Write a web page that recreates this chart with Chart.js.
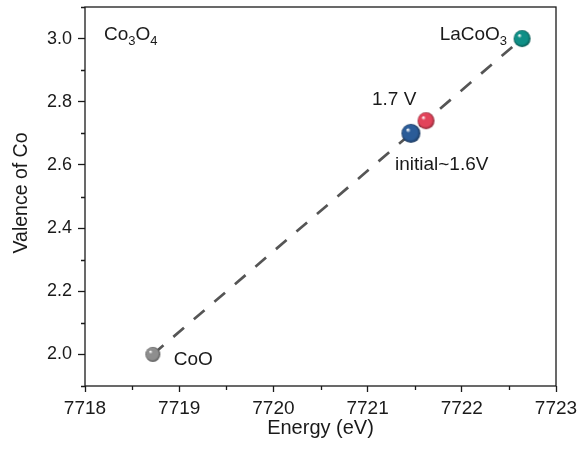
<!DOCTYPE html>
<html>
<head>
<meta charset="utf-8">
<script src="https://cdn.jsdelivr.net/npm/chart.js@4.4.1/dist/chart.umd.min.js"></script>
<style>
  html, body { margin: 0; padding: 0; background: #fff; }
  #wrap { width: 583px; height: 450px; }
</style>
</head>
<body>
<div id="wrap"><canvas id="valenceCanvas"></canvas></div>
<script>
// 샘플 데이터 (red before blue so blue sits on top)
const samples = ['CoO', '1.7 V', 'initial~1.6V', 'LaCoO3'];
const energy = [7718.72, 7721.62, 7721.46, 7722.64];
const valence = [2.00, 2.74, 2.70, 3.00];
const fitEnergy = [7718.72, 7722.64];
const fitValence = [2.00, 3.00];
const xTicks = [7718, 7719, 7720, 7721, 7722, 7723];
const yTicks = [2.0, 2.2, 2.4, 2.6, 2.8, 3.0];

const ballColors = ['#8e8e8e', '#e2435a', '#2b5c98', '#0f8f86'];
const ballRadius = [7.5, 8.5, 9.5, 8.5];
const FONT = '"Liberation Sans", Arial, sans-serif';

function shade(hex, k) {
    const n = parseInt(hex.slice(1), 16);
    const r = Math.round(((n >> 16) & 255) * k);
    const g = Math.round(((n >> 8) & 255) * k);
    const b = Math.round((n & 255) * k);
    return `rgb(${r},${g},${b})`;
}

function makeBall(color, r) {
    const c = document.createElement('canvas');
    c.width = c.height = Math.ceil(2 * r + 2);
    const g = c.getContext('2d');
    const cx = c.width / 2, cy = c.height / 2;
    const grad = g.createRadialGradient(cx - r * 0.35, cy - r * 0.4, r * 0.05, cx, cy, r);
    grad.addColorStop(0, '#ffffff');
    grad.addColorStop(0.22, color);
    grad.addColorStop(0.75, color);
    grad.addColorStop(1, shade(color, 0.6));
    g.fillStyle = grad;
    g.beginPath();
    g.arc(cx, cy, r, 0, Math.PI * 2);
    g.fill();
    return c;
}

const balls = ballColors.map((c, i) => makeBall(c, ballRadius[i]));

// text runs: [text, isSubscript]
const labelRuns = {
    'CoO': [['CoO', false]],
    '1.7 V': [['1.7 V', false]],
    'initial~1.6V': [['initial~1.6V', false]],
    'LaCoO3': [['LaCoO', false], ['3', true]]
};
// offset of the label from its point (px), align
const labelOffset = {
    'CoO': [21, 11, 'left'],
    '1.7 V': [-54, -16, 'left'],
    'initial~1.6V': [-16, 37, 'left'],
    'LaCoO3': [-15, 1, 'right']
};

function runsWidth(ctx, runs) {
    let w = 0;
    runs.forEach(([t, sub]) => {
        ctx.font = (sub ? '13px ' : '19px ') + FONT;
        w += ctx.measureText(t).width;
    });
    return w;
}

function drawRuns(ctx, runs, x, y) {
    runs.forEach(([t, sub]) => {
        ctx.font = (sub ? '13px ' : '19px ') + FONT;
        ctx.fillText(t, x, sub ? y + 5 : y);
        x += ctx.measureText(t).width;
    });
}

const framePlugin = {
    id: 'frame',
    afterDraw(chart) {
        const { ctx, chartArea: a, scales: { x, y } } = chart;
        ctx.save();
        ctx.strokeStyle = '#1a1a1a';
        ctx.lineWidth = 1.3;
        ctx.strokeRect(a.left, a.top, a.right - a.left, a.bottom - a.top);

        // minor ticks
        ctx.beginPath();
        for (let i = 0; i < xTicks.length - 1; i++) {
            const px = Math.round(x.getPixelForValue((xTicks[i] + xTicks[i + 1]) / 2)) + 0.5;
            ctx.moveTo(px, a.bottom);
            ctx.lineTo(px, a.bottom + 4);
        }
        const yMinor = [1.9];
        for (let i = 0; i < yTicks.length - 1; i++) yMinor.push((yTicks[i] + yTicks[i + 1]) / 2);
        yMinor.push(3.1);
        yMinor.forEach(v => {
            const py = Math.round(y.getPixelForValue(v)) + 0.5;
            ctx.moveTo(a.left, py);
            ctx.lineTo(a.left - 4, py);
        });
        ctx.stroke();

        // axis titles
        ctx.fillStyle = '#1a1a1a';
        ctx.font = '20px ' + FONT;
        ctx.textAlign = 'center';
        ctx.textBaseline = 'middle';
        ctx.fillText('Energy (eV)', (a.left + a.right) / 2, 428);
        ctx.save();
        ctx.translate(22, 193);
        ctx.rotate(-Math.PI / 2);
        ctx.font = '19.5px ' + FONT;
        ctx.fillText('Valence of Co', 0, 0);
        ctx.restore();

        // point labels
        ctx.textAlign = 'left';
        ctx.textBaseline = 'alphabetic';
        samples.forEach((s, i) => {
            const px = x.getPixelForValue(energy[i]);
            const py = y.getPixelForValue(valence[i]);
            const [dx, dy, align] = labelOffset[s];
            const runs = labelRuns[s];
            let sx = px + dx;
            if (align === 'right') sx -= runsWidth(ctx, runs);
            drawRuns(ctx, runs, sx, py + dy);
        });
        drawRuns(ctx, [['Co', false], ['3', true], ['O', false], ['4', true]], a.left + 19, a.top + 33);
        ctx.restore();
    }
};

const ctx = document.getElementById('valenceCanvas').getContext('2d');
const valenceChart = new Chart(ctx, {
    type: 'scatter',
    data: {
        datasets: [
            {
                label: 'fit',
                type: 'line',
                data: fitEnergy.map((e, i) => ({ x: e, y: fitValence[i] })),
                borderColor: '#555555',
                borderWidth: 2.7,
                borderDash: [14, 13],
                pointRadius: 0,
                fill: false,
                order: 2
            },
            {
                label: 'samples',
                data: energy.map((e, i) => ({ x: e, y: valence[i] })),
                pointStyle: balls,
                pointRadius: ballRadius,
                order: 1
            }
        ]
    },
    options: {
        responsive: true,
        maintainAspectRatio: false,
        animation: false,
        layout: { autoPadding: false, padding: { top: 7, right: 27, left: 0, bottom: 0 } },
        plugins: {
            legend: { display: false },
            tooltip: { enabled: false }
        },
        scales: {
            x: {
                min: 7718,
                max: 7723,
                afterBuildTicks: s => { s.ticks = xTicks.map(v => ({ value: v })); },
                afterFit: s => { s.height = 64; s.paddingLeft = 0; s.paddingRight = 0; },
                border: { display: false },
                grid: { drawOnChartArea: false, tickLength: 6, tickWidth: 1.3, color: '#1a1a1a' },
                ticks: {
                    padding: 5,
                    color: '#1a1a1a',
                    font: { family: FONT, size: 19 },
                    maxRotation: 0,
                    callback: v => String(v)
                }
            },
            y: {
                min: 1.9,
                max: 3.1,
                afterBuildTicks: s => { s.ticks = yTicks.map(v => ({ value: v })); },
                afterFit: s => { s.width = 85; s.paddingTop = 0; s.paddingBottom = 0; },
                border: { display: false },
                grid: { drawOnChartArea: false, tickLength: 7, tickWidth: 1.3, color: '#1a1a1a' },
                ticks: {
                    padding: 6,
                    color: '#1a1a1a',
                    font: { family: FONT, size: 18 },
                    callback: v => v.toFixed(1)
                }
            }
        }
    },
    plugins: [framePlugin]
});
</script>
</body>
</html>
